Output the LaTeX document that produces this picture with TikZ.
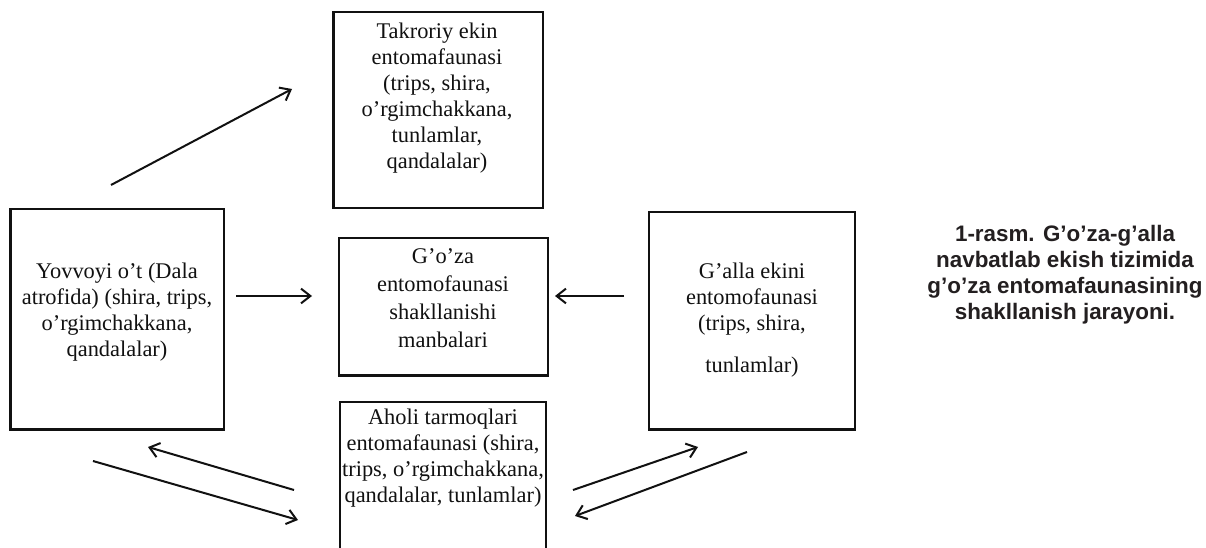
\documentclass[tikz,border=0pt]{standalone}
\usepackage{fontspec}
\setmainfont{Liberation Serif}
\newfontfamily\capfont{Liberation Sans}
\usetikzlibrary{arrows.meta}
\definecolor{ink}{HTML}{111111}
\definecolor{capink}{HTML}{231F20}
\tikzset{
  box/.style={draw=ink, line width=1pt, rectangle, inner sep=0pt},
  lbl/.style={align=center, text=ink, inner sep=0pt, font=\fontsize{16.8pt}{19.5pt}\selectfont},
  captext/.style={align=center, text=capink, inner sep=0pt, font=\capfont\bfseries\fontsize{16.8pt}{19.5pt}\selectfont},
  conn/.style={draw=ink, line width=1.5pt, -{Straight Barb[length=7pt,width=11pt,line width=1.5pt]}},
  shade/.style={draw=ink, line width=2pt}
}
\begin{document}
\begin{tikzpicture}[x=0.75pt,y=-0.75pt]
\clip (0,0) rectangle (1206,548);
\fill[white] (0,0) rectangle (1206,548);

% boxes
\node[box, minimum width={209*0.75pt}, minimum height={196*0.75pt}] (top) at (438.5,110) {};
\node[box, minimum width={213*0.75pt}, minimum height={220*0.75pt}] (left) at (117.5,319) {};
\node[box, line width=1.6pt, minimum width={209*0.75pt}, minimum height={137*0.75pt}] (mid) at (443.5,306.5) {};
\node[box, minimum width={206*0.75pt}, minimum height={217*0.75pt}] (right) at (752,320.5) {};
\node[box, minimum width={206*0.75pt}, minimum height={170*0.75pt}] (bot) at (443,487) {};

% shadow edges
\draw[shade] (top.north west) -- (top.south west);
\draw[shade] (left.north west) -- (left.south west) -- (left.south east);
\draw[shade] (right.south west) -- (right.south east);
\draw[shade] (mid.south west) -- (mid.south east);

% texts
\node[lbl] (toptext) at (437,98) {Takroriy ekin\\entomafaunasi\\(trips, shira,\\o’rgimchakkana,\\tunlamlar,\\qandalalar)};
\node[lbl] (lefttext) at (117,312) {Yovvoyi o’t (Dala\\atrofida) (shira, trips,\\o’rgimchakkana,\\qandalalar)};
\node[lbl, font=\fontsize{16.8pt}{21pt}\selectfont] (midtext) at (443,298) {G’o’za\\entomofaunasi\\shakllanishi\\manbalari};
\node[lbl] (righttext) at (752,320) {G’alla ekini\\entomofaunasi\\(trips, shira,\\[12pt]tunlamlar)};
\node[lbl] (bottext) at (443,458) {Aholi tarmoqlari\\entomafaunasi (shira,\\trips, o’rgimchakkana,\\qandalalar, tunlamlar)};

\node[captext] (caption) at (1065,275) {1-rasm. G’o’za-g’alla\\navbatlab ekish tizimida\\g’o’za entomafaunasining\\shakllanish jarayoni.};

% arrow endpoints
\coordinate (a1s) at (111,185); \coordinate (a1e) at (292,89);
\coordinate (a2s) at (236,296); \coordinate (a2e) at (312,296);
\coordinate (a3s) at (624,296); \coordinate (a3e) at (555,296);
\coordinate (a4s) at (294,490); \coordinate (a4e) at (148,447);
\coordinate (a5s) at (93,461);  \coordinate (a5e) at (298,520);
\coordinate (a6s) at (573,490); \coordinate (a6e) at (698,447);
\coordinate (a7s) at (747,452); \coordinate (a7e) at (575,516);

\draw[conn] (a1s) -- (a1e);
\draw[conn] (a2s) -- (a2e);
\draw[conn] (a3s) -- (a3e);
\draw[conn] (a4s) -- (a4e);
\draw[conn] (a5s) -- (a5e);
\draw[conn] (a6s) -- (a6e);
\draw[conn] (a7s) -- (a7e);
\end{tikzpicture}
\end{document}
